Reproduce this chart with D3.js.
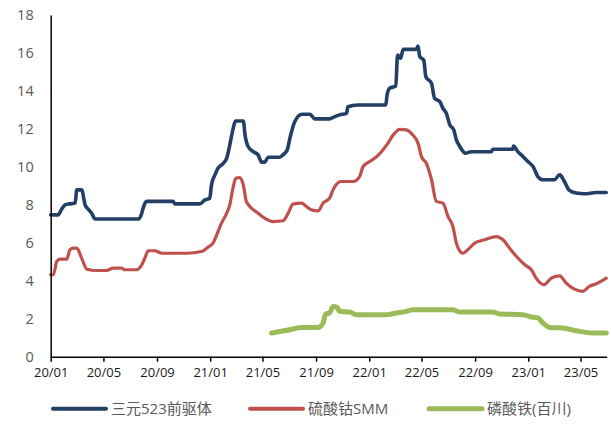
<!DOCTYPE html>
<html>
<head>
<meta charset="utf-8">
<script src="https://cdn.jsdelivr.net/npm/d3@7/dist/d3.min.js"></script>
<style>
  html, body { margin: 0; padding: 0; background: #fff; }
  svg { display: block; }
  text { font-family: "Open Sans", "Noto Sans CJK SC", sans-serif; }
</style>
</head>
<body>
<svg id="chart" width="611" height="424"></svg>
<script>
// Series names
const seriesNames = ["三元523前驱体", "硫酸钴SMM", "磷酸铁(百川)"];

// 三元523前驱体 (万元/吨)
const precursorDates = ["2020-01-01","2020-01-18","2020-01-26","2020-02-03","2020-02-14","2020-02-26","2020-03-01","2020-03-12","2020-03-20","2020-03-27","2020-04-04","2020-04-12","2020-07-20","2020-07-28","2020-07-31","2020-08-08","2020-10-08","2020-10-12","2020-12-08","2020-12-20","2020-12-31","2021-01-04","2021-01-12","2021-01-19","2021-01-31","2021-02-08","2021-02-15","2021-02-23","2021-02-28","2021-03-18","2021-03-22","2021-03-29","2021-04-10","2021-04-21","2021-04-29","2021-05-06","2021-05-14","2021-06-10","2021-06-17","2021-06-27","2021-07-03","2021-07-14","2021-07-31","2021-08-18","2021-08-29","2021-10-02","2021-10-14","2021-10-25","2021-11-10","2021-11-13","2021-12-06","2022-02-08","2022-02-11","2022-02-17","2022-03-03","2022-03-07","2022-03-14","2022-03-20","2022-04-19","2022-04-23","2022-04-27","2022-05-06","2022-05-11","2022-05-24","2022-05-31","2022-06-12","2022-06-19","2022-06-27","2022-07-05","2022-07-14","2022-07-20","2022-07-28","2022-08-10","2022-08-23","2022-10-08","2022-10-12","2022-11-27","2022-11-28","2022-12-08","2022-12-20","2022-12-31","2023-01-12","2023-01-23","2023-02-04","2023-03-02","2023-03-14","2023-03-25","2023-04-04","2023-04-21","2023-05-10","2023-06-06","2023-06-29"];
const precursorValues = [7.47,7.47,7.77,8.0,8.05,8.09,8.79,8.79,8.0,7.77,7.56,7.25,7.25,7.56,7.82,8.18,8.18,8.05,8.05,8.26,8.35,9.05,9.58,9.93,10.19,10.46,11.16,12.04,12.42,12.42,11.68,11.07,10.8,10.63,10.25,10.25,10.51,10.51,10.63,10.9,11.51,12.38,12.77,12.77,12.53,12.53,12.65,12.74,12.82,13.17,13.26,13.26,13.79,14.14,14.26,15.89,15.72,16.19,16.19,16.37,15.81,15.63,14.75,14.4,13.61,13.44,13.09,12.82,12.21,11.95,11.42,11.07,10.72,10.8,10.8,10.93,10.93,11.1,10.8,10.54,10.28,10.02,9.49,9.32,9.32,9.58,9.23,8.79,8.62,8.58,8.65,8.65];

// 硫酸钴SMM (万元/吨)
const cobaltDates = ["2020-01-01","2020-01-07","2020-01-15","2020-01-22","2020-02-07","2020-02-14","2020-02-22","2020-03-01","2020-03-12","2020-03-24","2020-04-15","2020-05-08","2020-05-24","2020-06-12","2020-06-19","2020-07-16","2020-07-28","2020-08-04","2020-08-12","2020-08-27","2020-09-12","2020-11-08","2020-12-12","2020-12-27","2021-01-08","2021-01-16","2021-01-27","2021-02-08","2021-02-15","2021-02-23","2021-03-01","2021-03-10","2021-03-18","2021-03-25","2021-04-06","2021-04-21","2021-05-06","2021-05-25","2021-06-17","2021-06-29","2021-07-10","2021-07-30","2021-08-10","2021-08-21","2021-09-06","2021-09-17","2021-10-02","2021-10-10","2021-10-14","2021-10-29","2021-11-25","2021-12-10","2021-12-18","2022-01-02","2022-01-18","2022-01-29","2022-02-13","2022-02-25","2022-03-12","2022-03-27","2022-04-11","2022-04-23","2022-05-01","2022-05-12","2022-05-24","2022-06-04","2022-06-19","2022-07-01","2022-07-12","2022-07-20","2022-07-31","2022-08-03","2022-08-19","2022-08-31","2022-09-23","2022-10-20","2022-11-04","2022-11-19","2022-12-05","2022-12-24","2023-01-08","2023-01-19","2023-02-06","2023-02-23","2023-03-14","2023-03-29","2023-04-17","2023-05-06","2023-05-21","2023-06-06","2023-06-29"];
const cobaltValues = [4.32,4.32,5.02,5.14,5.14,5.63,5.72,5.72,5.19,4.61,4.54,4.54,4.67,4.67,4.58,4.58,4.84,5.19,5.58,5.58,5.45,5.45,5.54,5.77,6.0,6.42,7.04,7.56,8.0,8.96,9.4,9.44,9.05,8.18,7.82,7.56,7.3,7.12,7.16,7.56,8.04,8.09,7.91,7.74,7.68,8.09,8.35,8.79,8.96,9.23,9.23,9.49,10.02,10.28,10.54,10.8,11.25,11.68,11.98,11.95,11.68,11.25,10.54,10.19,9.32,8.18,8.09,7.38,6.86,5.98,5.49,5.45,5.72,5.98,6.16,6.33,6.16,5.72,5.28,4.84,4.58,4.14,3.79,4.14,4.26,3.88,3.56,3.44,3.7,3.84,4.14];

// 磷酸铁(百川) (万元/吨)
const ironDates = ["2021-05-22","2021-07-03","2021-07-30","2021-09-06","2021-09-17","2021-09-23","2021-10-02","2021-10-10","2021-10-19","2021-10-25","2021-11-17","2021-12-03","2022-02-09","2022-03-04","2022-03-27","2022-04-11","2022-07-12","2022-07-28","2022-10-12","2022-10-27","2022-12-20","2023-01-08","2023-01-23","2023-02-04","2023-02-19","2023-03-21","2023-04-21","2023-05-29","2023-06-29"];
const ironValues = [1.25,1.42,1.54,1.54,1.77,2.25,2.3,2.65,2.6,2.39,2.35,2.21,2.21,2.3,2.39,2.47,2.47,2.35,2.35,2.25,2.21,2.09,2.04,1.77,1.54,1.51,1.37,1.25,1.25];

// Axis ticks
const yTicks = [0, 2, 4, 6, 8, 10, 12, 14, 16, 18];
const xTickLabels = ["20/01","20/05","20/09","21/01","21/05","21/09","22/01","22/05","22/09","23/01","23/05"];

const colors = ["#233F66", "#C0504D", "#9BBB59"];
const widths = [3.6, 3.2, 5];

const parse = d3.timeParse("%Y-%m-%d");
const parseTick = d3.timeParse("%y/%m");
const zip = (ds, vs) => ds.map((d, i) => ({ date: parse(d), value: vs[i] }));
const series = [
  zip(precursorDates, precursorValues),
  zip(cobaltDates, cobaltValues),
  zip(ironDates, ironValues)
];

const svg = d3.select("#chart");
const plotLeft = 50.7, plotRight = 606.7, plotTop = 15, plotBottom = 356.7;

const x = d3.scaleTime()
  .domain([parse("2020-01-01"), parse("2023-06-30")])
  .range([plotLeft, plotRight]);
const y = d3.scaleLinear().domain([0, 18]).range([plotBottom, plotTop]);

// Lines
const line = d3.line()
  .x(d => x(d.date))
  .y(d => y(d.value))
  .curve(d3.curveMonotoneX);

series.forEach((s, i) => {
  svg.append("path")
    .datum(s)
    .attr("fill", "none")
    .attr("stroke", colors[i])
    .attr("stroke-width", widths[i])
    .attr("stroke-linejoin", "round")
    .attr("stroke-linecap", "round")
    .attr("d", line);
});

// Y axis
const yAxis = d3.axisLeft(y).tickValues(yTicks).tickSize(0).tickPadding(17);
const gy = svg.append("g").attr("transform", `translate(${plotLeft},0)`).call(yAxis);
gy.select(".domain").attr("stroke", "#000").attr("stroke-width", 1.5);
gy.selectAll("text")
  .attr("fill", "#595959")
  .style("font-size", "14.5px");

// X axis
const xAxis = d3.axisBottom(x)
  .tickValues(xTickLabels.map(parseTick))
  .tickFormat(d3.timeFormat("%y/%m"))
  .tickSizeInner(5).tickSizeOuter(0).tickPadding(6);
const gx = svg.append("g").attr("transform", `translate(0,${plotBottom})`).call(xAxis);
gx.select(".domain").attr("stroke", "#000").attr("stroke-width", 1.5);
gx.selectAll(".tick line").attr("stroke", "#000").attr("stroke-width", 1.5);
gx.selectAll("text")
  .attr("fill", "#1a1a1a")
  .style("font-size", "13px");

// Legend
const legendX = [53, 250, 429];
const legendY = 408.7;
const lg = svg.append("g");
seriesNames.forEach((name, i) => {
  lg.append("line")
    .attr("x1", legendX[i]).attr("x2", legendX[i] + 53)
    .attr("y1", legendY).attr("y2", legendY)
    .attr("stroke", colors[i])
    .attr("stroke-width", i === 2 ? 5 : 4)
    .attr("stroke-linecap", "round");
  lg.append("text")
    .attr("x", legendX[i] + 58)
    .attr("y", legendY)
    .attr("dy", "0.35em")
    .attr("fill", "#595959")
    .style("font-size", "15px")
    .text(name);
});
</script>
</body>
</html>
